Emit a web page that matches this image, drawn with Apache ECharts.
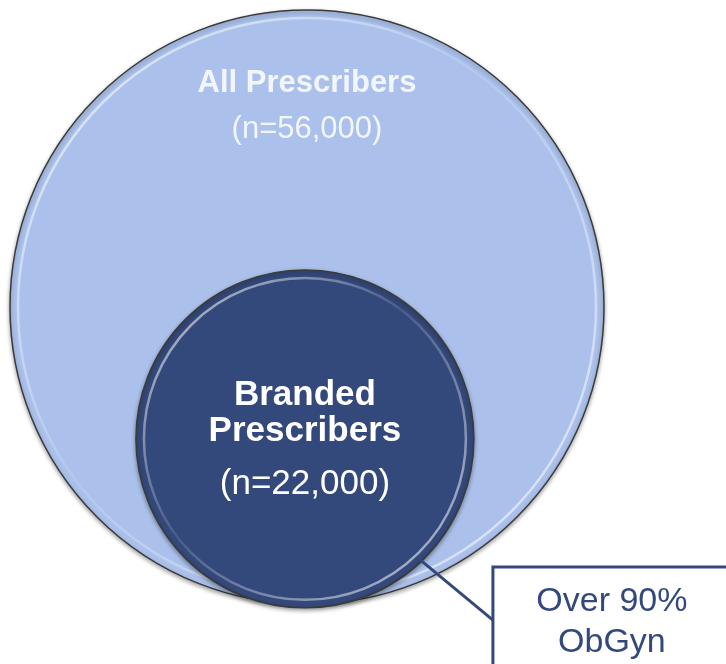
<!DOCTYPE html>
<html>
<head>
<meta charset="utf-8">
<script src="https://cdn.jsdelivr.net/npm/echarts@6/dist/echarts.min.js"></script>
<style>
  html, body { margin: 0; padding: 0; background: #fff; }
  #chart { width: 726px; height: 664px; }
</style>
</head>
<body>
<div id="chart"></div>
<script>
// sets, in units of the outer circle radius (outer circle centred at 0,0)
const setNames = [['All Prescribers'], ['Branded', 'Prescribers']]
const setCounts = ['(n=56,000)', '(n=22,000)']
const setX = [0, -0.007]
const setY = [0, -0.444]
const setR = [1, 0.569]

// callout note
const calloutLines = ['Over 90%', 'ObGyn']
const calloutAnchor = [0.37, -0.842]
const calloutBox = [0.626, -0.875]
const calloutJoinY = -1.054

const FONT = "'Liberation Sans', Arial, sans-serif"
const fills = ['#abc1eb', '#34497b']
const navy = '#34497b'

const myChart = echarts.init(document.getElementById('chart'))

const circleData = setX.map((x, i) => [x, setY[i], setR[i]])

myChart.setOption({
  animation: false,
  grid: {left: 10, top: 10, width: 594, height: 594},
  xAxis: {type: 'value', min: -1, max: 1, show: false},
  yAxis: {type: 'value', min: -1, max: 1, show: false},
  series: [
    {
      type: 'custom',
      data: circleData,
      renderItem: (params, api) => {
        const i = params.dataIndex
        const c = api.coord([api.value(0), api.value(1)])
        const r = api.size([api.value(2), 0])[0]
        const children = [
          {
            type: 'circle',
            shape: {cx: c[0], cy: c[1], r: r},
            style: {
              fill: fills[i],
              stroke: '#3a3a3a',
              lineWidth: 1.5,
              shadowBlur: 4,
              shadowOffsetY: 2,
              shadowColor: 'rgba(0,0,0,0.35)'
            }
          },
          {
            type: 'circle',
            shape: {cx: c[0], cy: c[1], r: r - 8},
            style: {
              fill: 'none',
              stroke: new echarts.graphic.LinearGradient(0, 0, 1, 1, [
                {offset: 0, color: 'rgba(255,255,255,0.75)'},
                {offset: 0.45, color: 'rgba(255,255,255,0.1)'},
                {offset: 1, color: 'rgba(255,255,255,0.7)'}
              ]),
              lineWidth: 2.5
            }
          }
        ]
        if (i === 0) {
          children.push(
            {type: 'text', x: c[0], y: c[1] - 224, style: {text: setNames[0][0], fill: '#f2f5fb', font: 'bold 31px ' + FONT, align: 'center', verticalAlign: 'middle'}},
            {type: 'text', x: c[0], y: c[1] - 178, style: {text: setCounts[0], fill: '#f2f5fb', font: '31px ' + FONT, align: 'center', verticalAlign: 'middle'}}
          )
        } else {
          children.push(
            {type: 'text', x: c[0], y: c[1] - 44, style: {text: setNames[1][0], fill: '#fff', font: 'bold 35px ' + FONT, align: 'center', verticalAlign: 'middle'}},
            {type: 'text', x: c[0], y: c[1] - 8, style: {text: setNames[1][1], fill: '#fff', font: 'bold 35px ' + FONT, align: 'center', verticalAlign: 'middle'}},
            {type: 'text', x: c[0], y: c[1] + 45, style: {text: setCounts[1], fill: '#fff', font: '35px ' + FONT, align: 'center', verticalAlign: 'middle'}}
          )
        }
        return {type: 'group', children: children}
      }
    },
    {
      type: 'custom',
      data: [[calloutAnchor[0], calloutAnchor[1], calloutBox[0], calloutBox[1], calloutJoinY]],
      renderItem: (params, api) => {
        const a = api.coord([api.value(0), api.value(1)])
        const b = api.coord([api.value(2), api.value(3)])
        const j = api.coord([api.value(2), api.value(4)])
        return {
          type: 'group',
          children: [
            {type: 'line', shape: {x1: a[0], y1: a[1], x2: j[0], y2: j[1]}, style: {stroke: navy, lineWidth: 3}},
            {type: 'rect', shape: {x: b[0], y: b[1], width: 260, height: 140}, style: {fill: '#fff', stroke: navy, lineWidth: 3}},
            {type: 'text', x: b[0] + 119, y: b[1] + 35, style: {text: calloutLines[0], fill: navy, font: '34px ' + FONT, align: 'center', verticalAlign: 'middle'}},
            {type: 'text', x: b[0] + 119, y: b[1] + 76, style: {text: calloutLines[1], fill: navy, font: '34px ' + FONT, align: 'center', verticalAlign: 'middle'}}
          ]
        }
      }
    }
  ]
})
</script>
</body>
</html>
